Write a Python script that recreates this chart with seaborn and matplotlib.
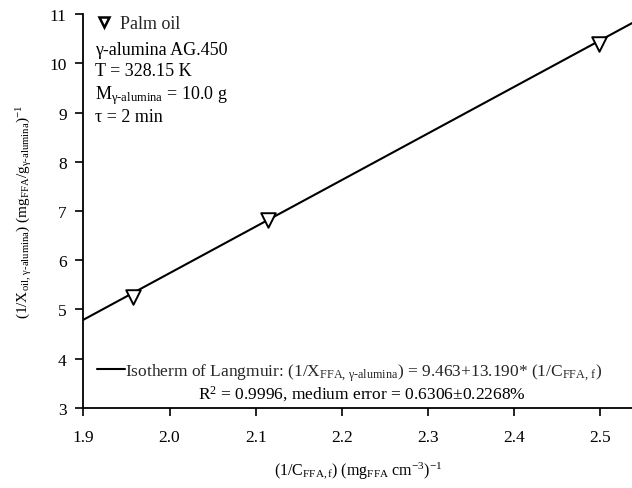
import numpy as np
import pandas as pd
import matplotlib
matplotlib.use("Agg")
import matplotlib.pyplot as plt
import seaborn as sns
from matplotlib.lines import Line2D

# ---- data ----
inv_c = [1.957, 2.114, 2.499]          # (1/C_FFA,f)
inv_x = [5.25, 6.82, 10.39]            # (1/X_oil,gamma-alumina)
fit_slope = 9.463
fit_intercept = -13.190
x_ticks = [1.9, 2.0, 2.1, 2.2, 2.3, 2.4, 2.5]
y_ticks = [3, 4, 5, 6, 7, 8, 9, 10, 11]
x_range = [1.9, 2.537]
y_range = [3, 11]

sns.set_theme(style="ticks")
plt.rcParams['font.family'] = ['Liberation Serif', 'DejaVu Sans']
plt.rcParams['mathtext.fontset'] = 'custom'
plt.rcParams['mathtext.rm'] = 'Liberation Serif'
plt.rcParams['mathtext.it'] = 'Liberation Serif:italic'
plt.rcParams['mathtext.bf'] = 'Liberation Serif:bold'

fig, ax = plt.subplots(figsize=(6.32, 4.89), dpi=100)
fig.subplots_adjust(left=0.132, right=1.0, top=0.969, bottom=0.164)

points = pd.DataFrame({"inv_c": inv_c, "inv_x": inv_x})
line_x = np.array(x_range)
line_df = pd.DataFrame({"x": line_x, "y": fit_slope * line_x + fit_intercept})

sns.lineplot(data=line_df, x="x", y="y", color="black", lw=1.5, ax=ax, zorder=2)
sns.scatterplot(data=points, x="inv_c", y="inv_x", marker="v", s=110,
                facecolor="white", edgecolor="black", linewidth=1.4, ax=ax, zorder=3)

ax.set_xlim(*x_range)
ax.set_ylim(*y_range)
ax.set_xticks(x_ticks)
ax.set_xticklabels([f"{v:.1f}" for v in x_ticks])
ax.set_yticks(y_ticks)
sns.despine(ax=ax)
for s in ["left", "bottom"]:
    ax.spines[s].set_linewidth(1.3)
    ax.spines[s].set_color("black")
ax.tick_params(axis="both", direction="out", length=6, width=1.2, colors="black",
               labelsize=12.5)
ax.tick_params(axis="x", pad=9)
ax.tick_params(axis="y", pad=6)

ax.set_xlabel(r"$(1/\mathrm{C}_{\mathrm{FFA,f}})\ (\mathrm{mg}_{\mathrm{FFA}}\ \mathrm{cm}^{-3})^{-1}$",
              fontsize=11.5, labelpad=11, color="black")
ax.set_ylabel(r"$(1/\mathrm{X}_{\mathrm{oil,\,\gamma\text{-}alumina}})\ (\mathrm{mg}_{\mathrm{FFA}}/\mathrm{g}_{\mathrm{\gamma\text{-}alumina}})^{-1}$",
              fontsize=11, labelpad=11, color="black")

# top-left legend / info block
h1 = Line2D([], [], marker="v", ls="", mfc="white", mec="black", ms=7, mew=1.8)
leg1 = ax.legend(handles=[h1], labels=["Palm oil"], loc="upper left",
                 bbox_to_anchor=(0.024, 0.997), frameon=False, fontsize=13,
                 handlelength=0.8, handletextpad=0.5, borderpad=0, borderaxespad=0)
ax.add_artist(leg1)

info = ["γ-alumina AG.450", "T = 328.15 K",
        r"M$_{\mathrm{\gamma\text{-}alumina}}$ = 10.0 g", "τ = 2 min"]
info_y = [0.909, 0.856, 0.795, 0.740]
for t, yy in zip(info, info_y):
    ax.text(0.021, yy, t, transform=ax.transAxes, fontsize=13, va="center",
            ha="left", color="black")

# bottom legend for the fitted line
h2 = Line2D([], [], color="black", lw=1.5)
leg2 = ax.legend(handles=[h2],
                 labels=[r"Isotherm of Langmuir: $(1/\mathrm{X}_{\mathrm{FFA,\,\gamma\text{-}alumina}})$ = 9.463+13.190* $(1/\mathrm{C}_{\mathrm{FFA,\,f}})$"],
                 loc="center left", bbox_to_anchor=(0.025, 0.091), frameon=False,
                 fontsize=12.5, handlelength=1.6, handletextpad=0.0,
                 borderpad=0, borderaxespad=0)
ax.text(0.508, 0.036, r"R$^{2}$ = 0.9996, medium error = 0.6306±0.2268%",
        transform=ax.transAxes, fontsize=12.5, ha="center", va="center", color="black")

fig.savefig("out.png", dpi=100)
